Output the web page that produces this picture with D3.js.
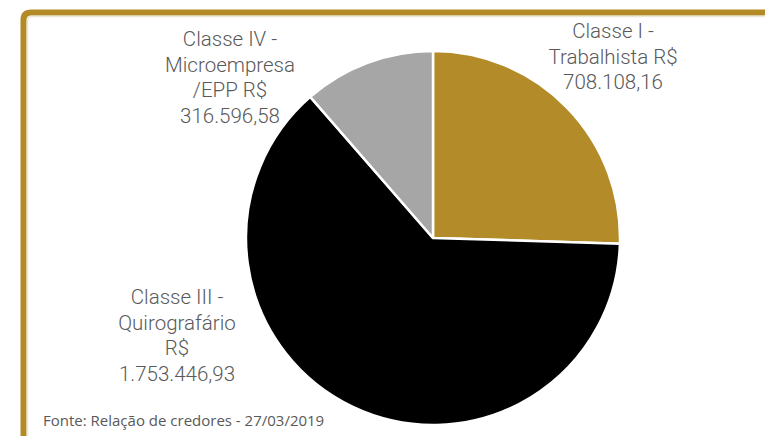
<!DOCTYPE html>
<html>
<head>
<meta charset="utf-8">
<script src="https://cdn.jsdelivr.net/npm/d3@7"></script>
<style>
  html, body { margin: 0; padding: 0; background: #fff; }
  svg { display: block; }
</style>
</head>
<body>
<div id="chart"></div>
<script>
'use strict';

// values (R$)
const categories = ['Classe I', 'Classe III', 'Classe IV'];
const values = [708108.16, 1753446.93, 316596.58];
const labelLines = [
  ['Classe I -', 'Trabalhista R$', '708.108,16'],
  ['Classe III -', 'Quirografário', 'R$', '1.753.446,93'],
  ['Classe IV -', 'Microempresa', '/EPP R$', '316.596,58']
];
const source = 'Fonte: Relação de credores - 27/03/2019';

const colors = ['#b38b28', '#000000', '#a6a6a6'];
// label anchor (centre x, first baseline) per slice
const labelPos = [[613, 38], [177, 304], [230, 46]];

const width = 765, height = 436;
const cx = 433, cy = 238, radius = 187;

const svg = d3.select('#chart').append('svg')
    .attr('width', width)
    .attr('height', height);

// frame
svg.append('path')
    .attr('d', 'M23.5,436 V20 Q23.5,12.5 31,12.5 H765')
    .attr('fill', 'none')
    .attr('stroke', '#b48a26')
    .attr('stroke-width', 6);
svg.append('path')
    .attr('d', 'M27.5,436 V21 Q27.5,16.5 32,16.5 H765')
    .attr('fill', 'none')
    .attr('stroke', '#ece6d6')
    .attr('stroke-width', 1.5);

const pie = d3.pie()
    .sort(null)
    .value(d => d);

const arc = d3.arc()
    .innerRadius(0)
    .outerRadius(radius);

const g = svg.append('g')
    .attr('transform', `translate(${cx}, ${cy})`);

g.selectAll('.slice')
    .data(pie(values))
  .enter().append('path')
    .attr('class', 'slice')
    .attr('d', arc)
    .attr('fill', (d, i) => colors[i])
    .attr('stroke', '#fff')
    .attr('stroke-width', 2.5)
    .attr('stroke-linejoin', 'round');

const labels = svg.selectAll('.label')
    .data(categories)
  .enter().append('text')
    .attr('class', 'label')
    .attr('text-anchor', 'middle')
    .attr('font-family', 'Roboto, sans-serif')
    .attr('font-weight', 300)
    .attr('font-size', 20.5)
    .attr('fill', '#595959');

labels.each(function(d, i) {
  const t = d3.select(this);
  labelLines[i].forEach((line, j) => {
    t.append('tspan')
        .attr('x', labelPos[i][0])
        .attr('y', labelPos[i][1] + j * 25.5)
        .text(line);
  });
});

svg.append('text')
    .attr('x', 43)
    .attr('y', 426)
    .attr('font-family', '"Open Sans", sans-serif')
    .attr('font-size', 15)
    .attr('fill', '#595959')
    .text(source);
</script>
</body>
</html>
